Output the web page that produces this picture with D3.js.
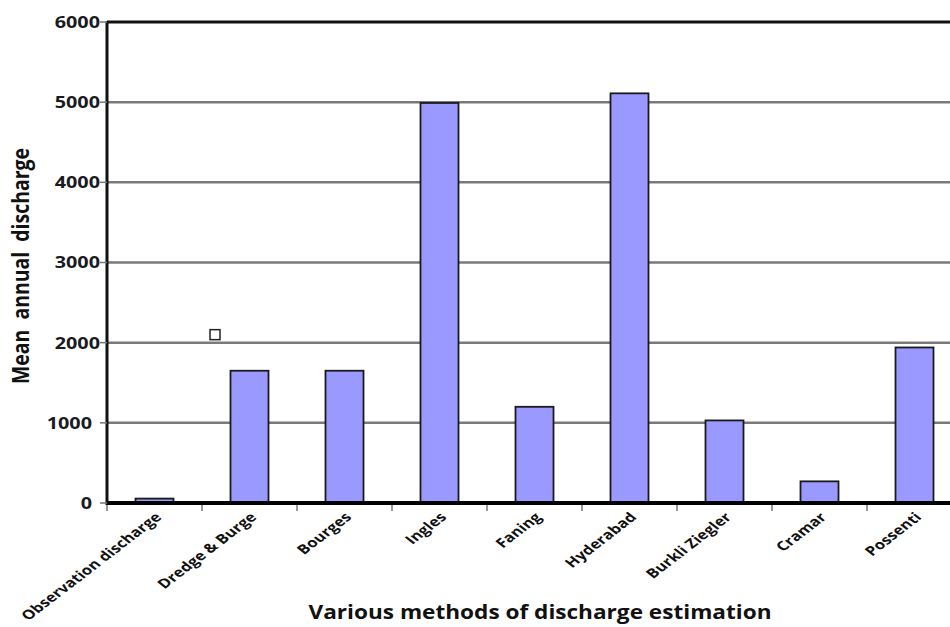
<!DOCTYPE html>
<html><head><meta charset="utf-8">
<script src="https://cdn.jsdelivr.net/npm/d3@7"></script>
<style>body{margin:0;background:#fff}svg{display:block}</style>
</head><body>
<svg id="c" width="950" height="627"></svg>
<script>
const categories = ["Observation discharge","Dredge & Burge","Bourges","Ingles","Faning","Hyderabad","Burkli Ziegler","Cramar","Possenti"];
const values = [55, 1650, 1650, 4990, 1200, 5110, 1030, 270, 1940];
const yTicks = [0,1000,2000,3000,4000,5000,6000];
const strayMarker = [{category:"Dredge & Burge", value:2100}];

(function(){
const svg = d3.select("#c");
const pL = 107, pR = 962, pT = 22, pB = 503;
const x = d3.scaleBand().domain(categories).range([pL, pR]).paddingInner(0.6).paddingOuter(0.3);
const xb = d3.scaleBand().domain(categories).range([pL, pR]);
const y = d3.scaleLinear().domain([0,6000]).range([pB, pT]);
const ff = "Open Sans, Liberation Sans, sans-serif";

svg.append("g").selectAll("line").data(yTicks.filter(d=>d>0 && d<6000)).join("line")
  .attr("x1", pL).attr("x2", 950).attr("y1", d=>y(d)).attr("y2", d=>y(d))
  .attr("stroke", "#7a7a7a").attr("stroke-width", 2.5);

svg.append("line").attr("x1", pL).attr("x2", 950).attr("y1", y(6000)).attr("y2", y(6000))
  .attr("stroke", "#111").attr("stroke-width", 3);

svg.append("g").selectAll("line").data(categories).join("line")
  .attr("x1", d=>xb(d)).attr("x2", d=>xb(d)).attr("y1", pB).attr("y2", pB+8)
  .attr("stroke", "#777").attr("stroke-width", 1.5);

svg.append("g").selectAll("rect").data(categories).join("rect")
  .attr("x", d=>x(d)).attr("width", x.bandwidth())
  .attr("y", (d,i)=>y(values[i])).attr("height", (d,i)=>pB - y(values[i]))
  .attr("fill", "#9999ff").attr("stroke", "#1a1a1a").attr("stroke-width", 1.8);

svg.append("line").attr("x1", pL).attr("x2", 950).attr("y1", pB).attr("y2", pB)
  .attr("stroke", "#000").attr("stroke-width", 4);
svg.append("line").attr("x1", pL).attr("x2", pL).attr("y1", pT-1).attr("y2", pB+2)
  .attr("stroke", "#111").attr("stroke-width", 3);

svg.append("g").selectAll("line").data(yTicks).join("line")
  .attr("x1", pL-7).attr("x2", pL).attr("y1", d=>y(d)).attr("y2", d=>y(d))
  .attr("stroke", "#777").attr("stroke-width", 1.5);
svg.append("g").selectAll("text").data(yTicks).join("text")
  .attr("transform", d=>`translate(${d < 2000 ? pL-15 : pL-7},${y(d)}) scale(1.2,1)`)
  .attr("dy", "0.36em")
  .attr("text-anchor", "end").attr("font-family", ff)
  .attr("font-weight", "bold").attr("font-size", 16.5).attr("fill", "#1a1a22")
  .text(d=>d);

svg.append("g").selectAll("text").data(categories).join("text")
  .attr("transform", d=>`translate(${xb(d)+xb.bandwidth()/2+8},${pB+15}) scale(1.3,1) rotate(-45)`)
  .attr("text-anchor", "end").attr("font-family", ff)
  .attr("font-weight", "bold")
  .attr("font-size", 13).attr("fill", "#111")
  .text(d=>d);

svg.append("g").selectAll("rect").data(strayMarker).join("rect")
  .attr("x", d=>xb(d.category)+8).attr("y", d=>y(d.value)-5).attr("width", 10).attr("height", 10)
  .attr("fill", "#fff").attr("stroke", "#222").attr("stroke-width", 1.5);

svg.append("text").attr("transform", `translate(29,266) rotate(-90)`)
  .attr("text-anchor", "middle").attr("font-family", ff)
  .attr("font-weight", "bold").attr("font-size", 23).attr("fill", "#111")
  .attr("textLength", 236).attr("lengthAdjust", "spacingAndGlyphs")
  .style("white-space", "pre")
  .text("Mean  annual  discharge");
svg.append("text").attr("x", 540).attr("y", 619)
  .attr("text-anchor", "middle").attr("font-family", ff)
  .attr("font-weight", "bold").attr("font-size", 20).attr("fill", "#111")
  .attr("textLength", 463).attr("lengthAdjust", "spacingAndGlyphs")
  .text("Various methods of discharge estimation");
})();
</script>
</body></html>
